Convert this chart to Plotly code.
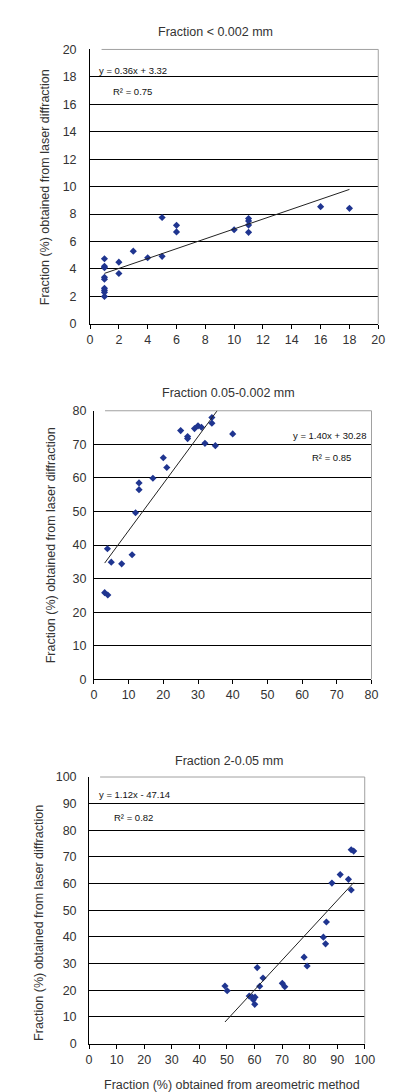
import plotly.graph_objects as go

W, H = 396, 1092

# ---------------- data ----------------
titles = ["Fraction < 0.002 mm", "Fraction 0.05-0.002 mm", "Fraction 2-0.05 mm"]
y_title = "Fraction (%) obtained from laser diffraction"
x_title = "Fraction (%) obtained from areometric method"

clay_x = [1, 1, 1, 1, 1, 1, 1, 1, 1, 2, 2, 3, 4, 5, 5, 6, 6, 10, 11, 11, 11, 11, 16, 18]
clay_y = [4.75, 4.2, 4.1, 3.4, 3.25, 2.6, 2.45, 2.3, 2.0, 4.5, 3.67, 5.3, 4.82, 7.75, 4.92,
          7.18, 6.7, 6.86, 7.68, 7.5, 7.2, 6.67, 8.54, 8.42]
clay_fit = (0.36, 3.32)
clay_eq = ["y = 0.36x + 3.32", "R² = 0.75"]

silt_x = [3.1, 4.0, 3.9, 5.0, 8.0, 11.0, 12.0, 13.0, 13.0, 17.0, 20.0, 21.0, 25.0, 27.0, 27.0,
          29.0, 30.0, 31.0, 32.0, 34.0, 34.0, 35.0, 40.0]
silt_y = [25.8, 25.1, 38.9, 34.9, 34.4, 37.1, 49.6, 58.5, 56.5, 59.9, 66.0, 63.1, 74.1, 72.3, 71.7,
          74.7, 75.5, 75.1, 70.3, 78.0, 76.3, 69.6, 73.1]
silt_fit = (1.40, 30.28)
silt_eq = ["y = 1.40x + 30.28", "R² = 0.85"]

sand_x = [49.3, 50.1, 61.0, 63.1, 61.9, 58.1, 59.2, 60.2, 59.6, 60.1, 70.1, 71.0, 78.0, 79.1,
          85.0, 85.8, 86.1, 88.1, 91.1, 94.1, 95.1, 95.1, 96.0]
sand_y = [21.6, 19.8, 28.5, 24.6, 21.5, 17.8, 17.4, 17.4, 16.4, 14.7, 22.6, 21.3, 32.4, 29.1,
          39.9, 37.4, 45.6, 60.2, 63.4, 61.6, 57.6, 72.7, 72.2]
sand_fit = (1.12, -47.14)
sand_eq = ["y = 1.12x - 47.14", "R² = 0.82"]

clay_ticks = list(range(0, 21, 2))
silt_ticks = list(range(0, 81, 10))
sand_ticks = list(range(0, 101, 10))

# ---------------- layout helpers (pixel boxes) ----------------
def px_x(p):
    return p / W

def px_y(p):
    return 1 - p / H

panels = [
    dict(x=clay_x, y=clay_y, fit=clay_fit, eq=clay_eq, ticks=clay_ticks,
         box=(90, 388, 43, 321), title_xy=(220, 25), ytitle_x=43, ytitle_y=183,
         eq_pos=[(97, 64), (112, 86)], standoff=10),
    dict(x=silt_x, y=silt_y, fit=silt_fit, eq=silt_eq, ticks=silt_ticks,
         box=(94, 381, 409, 681), title_xy=(233, 391), ytitle_x=50, ytitle_y=545,
         eq_pos=[(298, 434), (317, 456)], standoff=4),
    dict(x=sand_x, y=sand_y, fit=sand_fit, eq=sand_eq, ticks=sand_ticks,
         box=(89, 374, 780, 1050), title_xy=(234, 764), ytitle_x=37, ytitle_y=928,
         eq_pos=[(97, 798), (113, 821)], standoff=9),
]

fig = go.Figure()
font_main = "Liberation Sans, Arial, sans-serif"
marker_color = "#1f3590"
text_color = "#333333"

annotations = []
shapes = []
for i, p in enumerate(panels):
    n = "" if i == 0 else str(i + 1)
    xa, ya = "x" + n, "y" + n
    fig.add_trace(go.Scatter(x=p["x"], y=p["y"], mode="markers", xaxis=xa, yaxis=ya,
                             marker=dict(symbol="diamond", size=5.5, color=marker_color),
                             showlegend=False, hoverinfo="x+y"))
    a, b = p["fit"]
    x0, x1 = min(p["x"]), max(p["x"])
    fig.add_trace(go.Scatter(x=[x0, x1], y=[a * x0 + b, a * x1 + b], mode="lines",
                             xaxis=xa, yaxis=ya, line=dict(color="#222222", width=1),
                             showlegend=False, hoverinfo="skip"))
    l, r, t, btm = p["box"]
    tk = p["ticks"]
    fig.update_layout(**{
        "xaxis" + n: dict(domain=[px_x(l), px_x(r)], range=[tk[0], tk[-1]], tickvals=tk,
                          showgrid=False, zeroline=False, showline=True, linecolor="black",
                          linewidth=1, ticks="outside", ticklen=4, tickcolor="black",
                          anchor=ya, tickfont=dict(size=12.5, color=text_color, family=font_main),
                          fixedrange=True),
        "yaxis" + n: dict(domain=[px_y(btm), px_y(t)], range=[tk[0], tk[-1]], tickvals=tk,
                          showgrid=True, gridcolor="black", gridwidth=1, zeroline=False,
                          showline=True, linecolor="black", linewidth=1, ticks="",
                          anchor=xa, ticklabelstandoff=p["standoff"],
                          tickfont=dict(size=12.5, color=text_color, family=font_main),
                          fixedrange=True),
    })
    # gray top / right border of plot area
    shapes.append(dict(type="line", xref=xa + " domain", yref=ya + " domain",
                       x0=0.04, x1=1, y0=1, y1=1, line=dict(color="#a0a0a0", width=1)))
    shapes.append(dict(type="line", xref=xa + " domain", yref=ya + " domain",
                       x0=1, x1=1, y0=0, y1=1, line=dict(color="#a0a0a0", width=1)))
    tx, ty = p["title_xy"]
    annotations.append(dict(text=titles[i], x=px_x(tx), y=px_y(ty), xref="paper", yref="paper",
                            showarrow=False, xanchor="center", yanchor="middle",
                            font=dict(size=12.5, color=text_color, family=font_main)))
    annotations.append(dict(text=y_title, x=px_x(p["ytitle_x"]), y=px_y(p["ytitle_y"]),
                            xref="paper", yref="paper", showarrow=False, textangle=-90,
                            xanchor="center", yanchor="middle",
                            font=dict(size=12.5, color=text_color, family=font_main)))
    for txt, (ex, ey) in zip(p["eq"], p["eq_pos"]):
        annotations.append(dict(text=txt, x=px_x(ex), y=px_y(ey), xref="paper", yref="paper",
                                showarrow=False, xanchor="left", yanchor="middle",
                                font=dict(size=9.5, color="#111", family=font_main)))

annotations.append(dict(text=x_title, x=px_x(237), y=px_y(1092), xref="paper", yref="paper",
                        showarrow=False, xanchor="center", yanchor="middle",
                        font=dict(size=12.5, color=text_color, family=font_main)))

fig.update_layout(width=W, height=H, margin=dict(l=0, r=0, t=0, b=0),
                  paper_bgcolor="white", plot_bgcolor="white",
                  annotations=annotations, shapes=shapes)

fig.write_html("out.html", config={"displayModeBar": False})
